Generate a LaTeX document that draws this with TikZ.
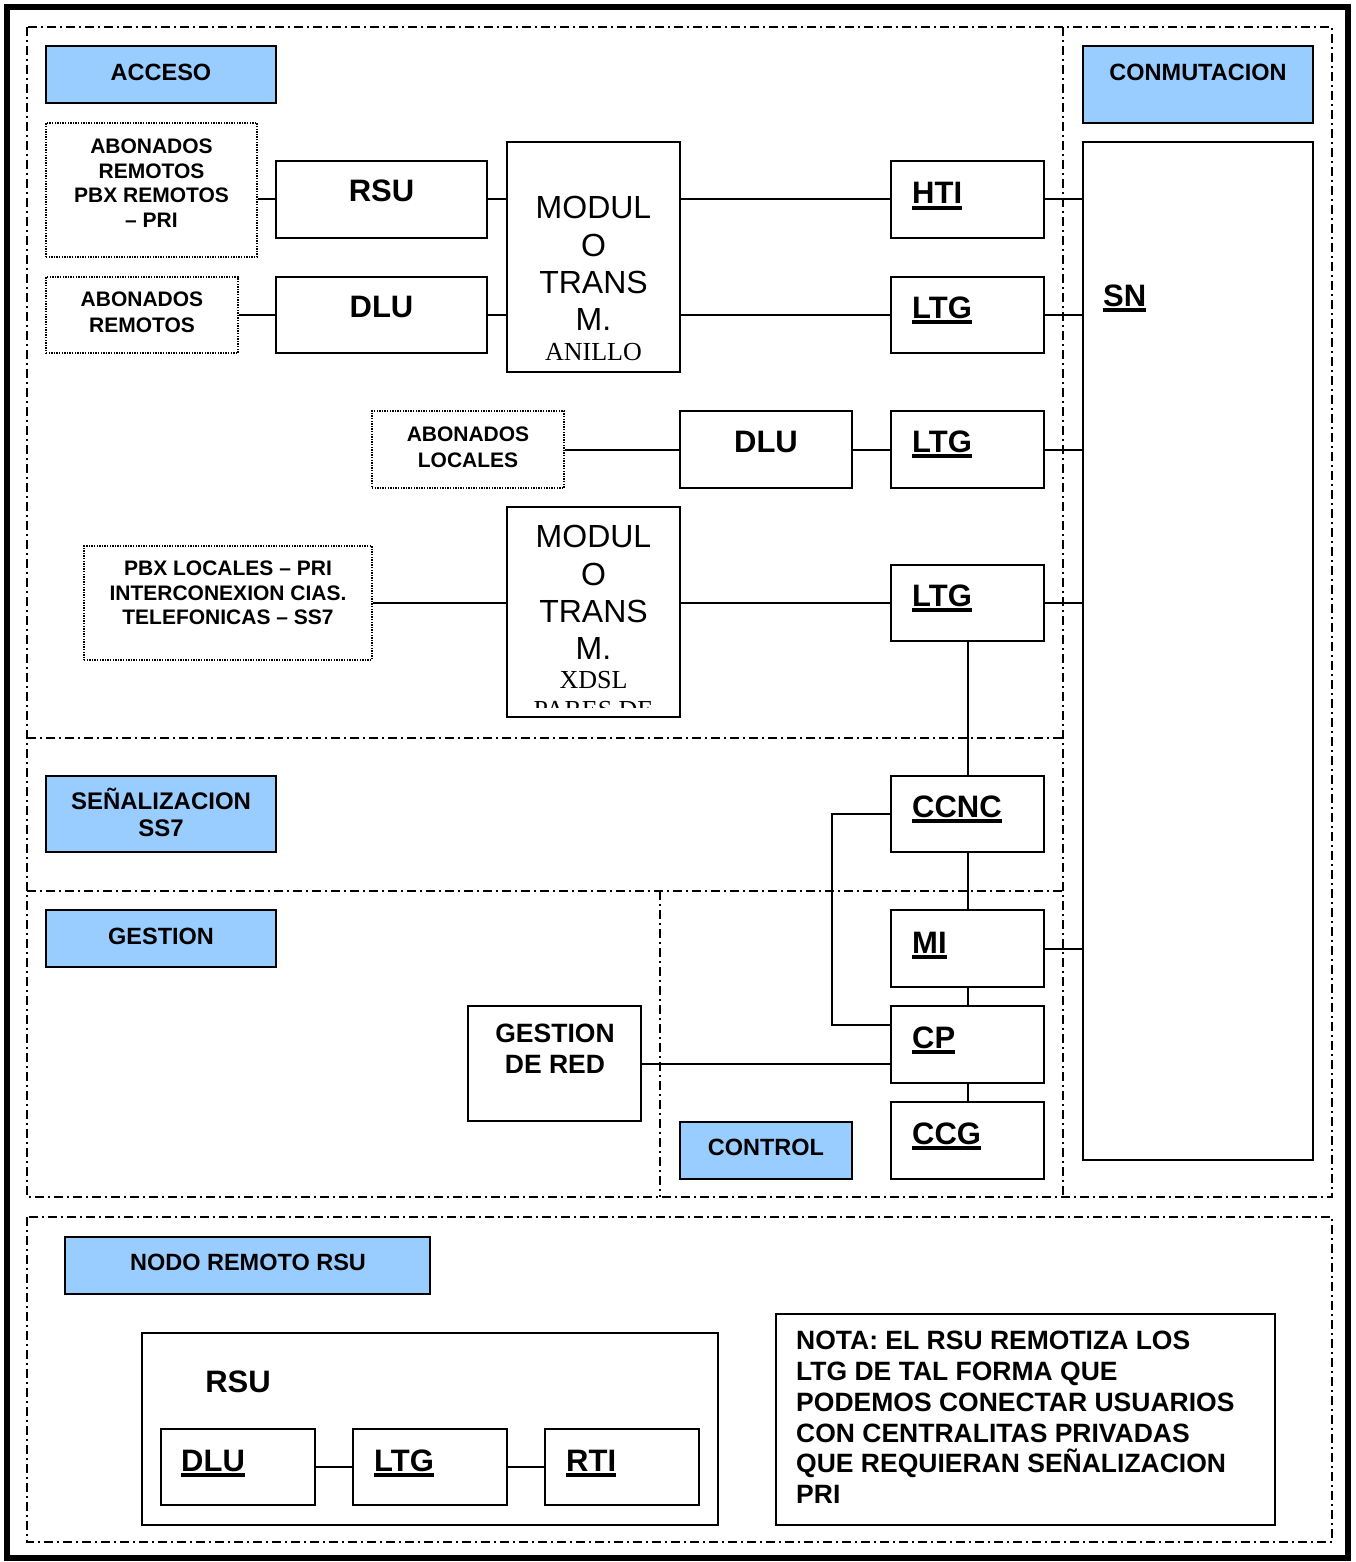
\documentclass[tikz,border=0pt]{standalone}
\usepackage{fontspec}
\setmainfont{Liberation Sans}
\newfontfamily\tnr{Liberation Serif}
\usetikzlibrary{fit}
\definecolor{lblue}{HTML}{99CCFF}
\newcommand\ulx[1]{\setbox0\hbox{#1}\rlap{\rule[-6pt]{\wd0}{3.6pt}}\box0}
\newcommand\tp{\rule{0pt}{1em}}
\begin{document}
\begin{tikzpicture}[x=1pt,y=-1pt,
  box/.style={draw, line width=2pt, inner sep=0pt},
  dbox/.style={draw, line width=1.5pt, dash pattern=on 1.4pt off 1.2pt, inner sep=0pt},
  lbl/.style={box, fill=lblue},
  region/.style={line width=1.5pt, dash pattern=on 9pt off 4pt on 2pt off 4pt},
  conn/.style={line width=2pt},
  big/.style={font=\fontsize{31}{36}\selectfont\bfseries, inner sep=0pt, anchor=base},
  bigl/.style={big, anchor=base west},
  ttl/.style={font=\fontsize{23.5}{27}\selectfont\bfseries, inner sep=0pt, anchor=base},
  ttlm/.style={font=\fontsize{24}{27}\selectfont\bfseries, inner sep=0pt, align=center, anchor=north},
  sm/.style={font=\fontsize{21}{24.5}\selectfont\bfseries, inner sep=0pt, align=center, anchor=north},
  modt/.style={font=\fontsize{32}{37.3}\selectfont, inner sep=0pt, align=center, anchor=north},
  serift/.style={font=\fontsize{26}{30}\selectfont\tnr, inner sep=0pt, anchor=base}
]
\useasboundingbox (0,0) rectangle (1356,1562);
% outer frame
\draw[line width=6pt] (7,7) rectangle (1348,1558);
% regions
\draw[region] (27,27) rectangle (1332,1197);
\draw[region] (1063,27) -- (1063,1197);
\draw[region] (27,738) -- (1063,738);
\draw[region] (27,891) -- (1063,891);
\draw[region] (660,891) -- (660,1197);
\draw[region] (27,1217) rectangle (1332,1542);

% boxes
\node[lbl, fit={(46,46) (276,103)}] (acc) {};
\node[dbox, fit={(46,123) (257,257)}] (abr) {};
\node[box, fit={(276,161) (487,238)}] (rsu) {};
\node[dbox, fit={(46,277) (238,353)}] (abr2) {};
\node[box, fit={(276,277) (487,353)}] (dlu) {};
\node[box, fit={(507,142) (680,372)}] (mod1) {};
\node[box, fit={(891,161) (1044,238)}] (hti) {};
\node[box, fit={(891,277) (1044,353)}] (ltga) {};
\node[dbox, fit={(372,411) (564,488)}] (abl) {};
\node[box, fit={(680,411) (852,488)}] (dlub) {};
\node[box, fit={(891,411) (1044,488)}] (ltgb) {};
\node[dbox, fit={(84,546) (372,660)}] (pbx) {};
\node[box, fit={(507,507) (680,717)}] (mod2) {};
\node[box, fit={(891,565) (1044,641)}] (ltgc) {};
\node[lbl, fit={(1083,46) (1313,123)}] (conm) {};
\node[box, fit={(1083,142) (1313,1160)}] (sn) {};
\node[lbl, fit={(46,776) (276,852)}] (sen) {};
\node[box, fit={(891,776) (1044,852)}] (ccnc) {};
\node[lbl, fit={(46,910) (276,967)}] (gest) {};
\node[box, fit={(891,910) (1044,987)}] (mi) {};
\node[box, fit={(468,1006) (641,1121)}] (gdr) {};
\node[box, fit={(891,1006) (1044,1083)}] (cp) {};
\node[lbl, fit={(680,1122) (852,1179)}] (ctl) {};
\node[box, fit={(891,1102) (1044,1179)}] (ccg) {};
\node[lbl, fit={(65,1237) (430,1294)}] (nodo) {};
\node[box, fit={(142,1333) (718,1525)}] (rsuo) {};
\node[box, fit={(161,1429) (315,1505)}] (dluc) {};
\node[box, fit={(353,1429) (507,1505)}] (ltgd) {};
\node[box, fit={(545,1429) (699,1505)}] (rti) {};
\node[box, fit={(776,1314) (1275,1525)}] (nota) {};

% texts
\node[ttl] (t-acc) at (161,80.5) {ACCESO};
\node[sm] (t-abr) at (151.5,132.5) {\tp ABONADOS\\REMOTOS\\PBX REMOTOS\\– PRI};
\node[big] (t-rsu) at (381.5,202) {RSU};
\node[sm, font=\fontsize{21}{26}\selectfont\bfseries] (t-abr2) at (142,285.5) {\tp ABONADOS\\REMOTOS};
\node[big] (t-dlu) at (381.5,317) {DLU};
\node[modt] (t-mod1) at (593.5,186.5) {\tp MODUL\\O\\TRANS\\M.};
\node[serift] (t-anillo) at (593.5,360.6) {ANILLO};
\node[bigl] (t-hti) at (912,204) {\ulx{HTI}};
\node[bigl] (t-ltga) at (912,318) {\ulx{LTG}};
\node[sm, font=\fontsize{21}{26}\selectfont\bfseries] (t-abl) at (468,420.5) {\tp ABONADOS\\LOCALES};
\node[big] (t-dlub) at (766,452) {DLU};
\node[bigl] (t-ltgb) at (912,452) {\ulx{LTG}};
\node[sm] (t-pbx) at (228,554.5) {\tp PBX LOCALES – PRI\\INTERCONEXION CIAS.\\TELEFONICAS – SS7};
\begin{scope}
\clip (508,508) rectangle (679,707);
\node[modt] (t-mod2) at (593.5,515.5) {\tp MODUL\\O\\TRANS\\M.};
\node[serift] (t-xdsl) at (593.5,688.6) {XDSL};
\node[serift] (t-pares) at (593.5,718.6) {PARES DE};
\end{scope}
\node[bigl] (t-ltgc) at (912,606) {\ulx{LTG}};
\node[ttl] (t-conm) at (1198,80.5) {CONMUTACION};
\node[bigl] (t-sn) at (1103,306) {\ulx{SN}};
\node[ttlm] (t-sen) at (161,785.6) {\tp SEÑALIZACION\\SS7};
\node[bigl] (t-ccnc) at (912,817) {\ulx{CCNC}};
\node[ttl] (t-gest) at (161,944.5) {GESTION};
\node[bigl] (t-mi) at (912,953) {\ulx{MI}};
\node[sm, font=\fontsize{26.5}{31}\selectfont\bfseries] (t-gdr) at (555,1016) {\tp GESTION\\DE RED};
\node[bigl] (t-cp) at (912,1048) {\ulx{CP}};
\node[ttl] (t-ctl) at (766,1155.5) {CONTROL};
\node[bigl] (t-ccg) at (912,1144) {\ulx{CCG}};
\node[ttl] (t-nodo) at (248,1270.5) {NODO REMOTO RSU};
\node[big] (t-rsuo) at (238,1392) {RSU};
\node[bigl] (t-dluc) at (181,1471) {\ulx{DLU}};
\node[bigl] (t-ltgd) at (374,1471) {\ulx{LTG}};
\node[bigl] (t-rti) at (566,1471) {\ulx{RTI}};
\node[font=\fontsize{26.5}{30.8}\selectfont\bfseries, inner sep=0pt, align=left, anchor=north west] (t-nota) at (796,1323)
  {\tp NOTA: EL RSU REMOTIZA LOS\\LTG DE TAL FORMA QUE\\PODEMOS CONECTAR USUARIOS\\CON CENTRALITAS PRIVADAS\\QUE REQUIERAN SEÑALIZACION\\PRI};

% connectors
\draw[conn] (rsu.west) -- (rsu.west -| abr.east);
\draw[conn] (dlu.west) -- (dlu.west -| abr2.east);
\draw[conn] (rsu.east) -- (rsu.east -| mod1.west);
\draw[conn] (dlu.east) -- (dlu.east -| mod1.west);
\draw[conn] (hti.west) -- (hti.west -| mod1.east);
\draw[conn] (ltga.west) -- (ltga.west -| mod1.east);
\draw[conn] (hti.east) -- (hti.east -| sn.west);
\draw[conn] (ltga.east) -- (ltga.east -| sn.west);
\draw[conn] (abl.east) -- (dlub.west);
\draw[conn] (dlub.east) -- (ltgb.west);
\draw[conn] (ltgb.east) -- (ltgb.east -| sn.west);
\draw[conn] (pbx.east) -- (pbx.east -| mod2.west);
\draw[conn] (ltgc.west) -- (ltgc.west -| mod2.east);
\draw[conn] (ltgc.east) -- (ltgc.east -| sn.west);
\draw[conn] (ltgc.south) -- (ccnc.north);
\draw[conn] (ccnc.south) -- (mi.north);
\draw[conn] (mi.south) -- (cp.north);
\draw[conn] (cp.south) -- (ccg.north);
\draw[conn] (mi.east) -- (mi.east -| sn.west);
\draw[conn] (ccnc.west) -- ++(-58,0) |- ([yshift=19.5pt]cp.west);
\draw[conn] (gdr.east) -- (gdr.east -| cp.west);
\draw[conn] (dluc.east) -- (ltgd.west);
\draw[conn] (ltgd.east) -- (rti.west);
\end{tikzpicture}
\end{document}
